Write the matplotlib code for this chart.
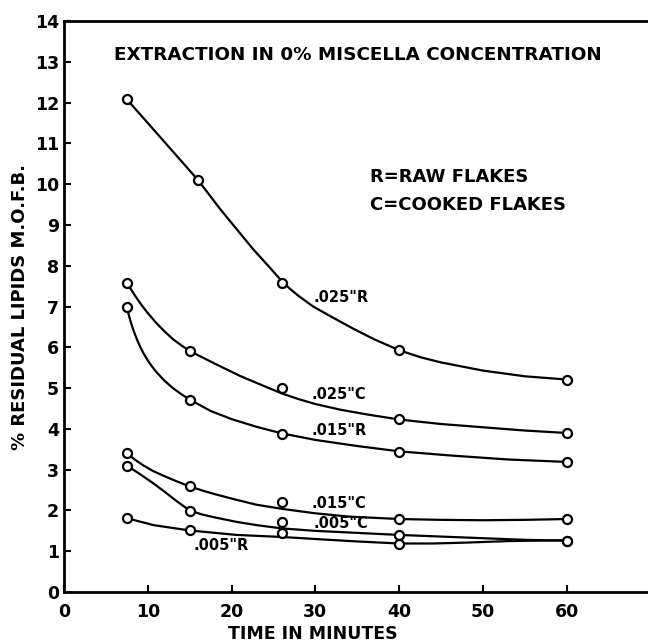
import matplotlib.pyplot as plt

# --- Readings (circles) ---
t_pts = [7.5, 15, 26, 40, 60]
t_pts_025r = [7.5, 16, 26, 40, 60]
raw_025 = [12.08, 10.1, 7.57, 5.93, 5.21]
cooked_025 = [7.58, 5.91, 5.01, 4.24, 3.91]
raw_015 = [6.98, 4.72, 3.88, 3.44, 3.19]
cooked_015 = [3.4, 2.6, 2.21, 1.79, 1.79]
cooked_005 = [3.1, 1.99, 1.71, 1.41, 1.26]
raw_005 = [1.81, 1.51, 1.44, 1.18, 1.26]

# --- Drawn curves ---
t_c_025r = [7.5, 10, 13, 16, 18.6, 20.6, 22.6, 24.5, 26.1, 27, 28, 29.75, 32, 34.5, 37, 40,
            42.5, 45, 50, 55, 60]
c_025r = [12.08, 11.5, 10.8, 10.1, 9.4, 8.9, 8.4, 7.97, 7.6, 7.43, 7.26, 7.0, 6.74, 6.46, 6.2,
          5.93, 5.76, 5.63, 5.43, 5.29, 5.21]

t_c_025c = [7.5, 8, 8.5, 9, 9.5, 10, 11, 12, 13, 14, 15, 18, 21, 24, 26, 28, 30, 33, 36, 40,
            45, 50, 55, 60]
c_025c = [7.58, 7.42, 7.26, 7.11, 6.97, 6.84, 6.6, 6.39, 6.2, 6.05, 5.91, 5.6, 5.3, 5.04, 4.87,
          4.73, 4.61, 4.47, 4.36, 4.23, 4.12, 4.04, 3.96, 3.9]

t_c_015r = [7.5, 7.75, 8, 8.25, 8.5, 8.8, 9.1, 9.5, 10, 10.5, 11, 12, 13, 14, 15, 17.5, 20, 23,
            26, 30, 35, 40, 46, 53, 60]
c_015r = [6.98, 6.78, 6.6, 6.44, 6.3, 6.15, 6.01, 5.85, 5.68, 5.53, 5.4, 5.18, 5.0, 4.85, 4.72,
          4.44, 4.24, 4.05, 3.89, 3.73, 3.58, 3.45, 3.35, 3.25, 3.19]

t_c_015c = [7.5, 8.5, 9.5, 10.7, 12, 13.5, 15, 16.5, 18, 20.6, 23, 26, 30, 34, 40, 45, 50, 55, 60]
c_015c = [3.4, 3.24, 3.1, 2.96, 2.84, 2.71, 2.59, 2.49, 2.4, 2.26, 2.14, 2.04, 1.93, 1.85, 1.79,
          1.77, 1.76, 1.77, 1.79]

t_c_005c = [7.5, 9, 10.7, 12, 13.5, 15, 16.5, 18, 20.6, 23, 26, 30, 35, 40, 45, 50, 55, 60]
c_005c = [3.1, 2.9, 2.66, 2.46, 2.22, 2.0, 1.9, 1.83, 1.72, 1.64, 1.56, 1.5, 1.45, 1.4, 1.36,
          1.32, 1.28, 1.26]

t_c_005r = [7.5, 10.7, 15, 20.6, 26, 30, 35, 40, 44, 47.7, 53.2, 60]
c_005r = [1.81, 1.64, 1.51, 1.4, 1.35, 1.3, 1.24, 1.19, 1.19, 1.21, 1.25, 1.27]

x_ticks = [0, 10, 20, 30, 40, 50, 60]
y_ticks = list(range(0, 15))

plt.rcParams['font.family'] = ['DejaVu Sans']
plt.rcParams['font.weight'] = 'bold'

fig = plt.figure(figsize=(6.48, 6.44), dpi=100)
ax = fig.add_axes([0.0988, 0.0807, 0.901, 0.8866])

curves = [(t_c_025r, c_025r), (t_c_025c, c_025c), (t_c_015r, c_015r),
          (t_c_015c, c_015c), (t_c_005c, c_005c), (t_c_005r, c_005r)]
for tc, cv in curves:
    ax.plot(tc, cv, color='black', lw=1.6, solid_capstyle='round', solid_joinstyle='round', zorder=2)

points = [(t_pts_025r, raw_025), (t_pts, cooked_025), (t_pts, raw_015),
          (t_pts, cooked_015), (t_pts, cooked_005), (t_pts, raw_005)]
for tp, vals in points:
    ax.plot(tp, vals, 'o', ms=6.5, mfc='white', mec='black', mew=1.6, zorder=3)

# --- Annotations ---
ax.text(35.1, 13.16, 'EXTRACTION IN 0% MISCELLA CONCENTRATION', ha='center', va='center',
        fontsize=13.2, fontweight='bold')
ax.text(36.5, 10.17, 'R=RAW FLAKES', ha='left', va='center', fontsize=13, fontweight='bold')
ax.text(36.5, 9.49, 'C=COOKED FLAKES', ha='left', va='center', fontsize=13, fontweight='bold')

lbl = dict(ha='left', va='center', fontsize=10.5, fontweight='bold')
ax.text(29.8, 7.23, '.025"R', **lbl)
ax.text(29.6, 4.85, '.025"C', **lbl)
ax.text(29.6, 3.97, '.015"R', **lbl)
ax.text(29.6, 2.17, '.015"C', **lbl)
ax.text(29.8, 1.67, '.005"C', **lbl)
ax.text(15.4, 1.13, '.005"R', **lbl)

# --- Axes ---
ax.set_xlim(0, 69.7)
ax.set_ylim(0, 14)
ax.set_xticks(x_ticks)
ax.set_yticks(y_ticks)
ax.tick_params(direction='in', length=5, width=1.5, labelsize=12.5)
ax.tick_params(axis='x', pad=8)
for s in ['left', 'bottom', 'top']:
    ax.spines[s].set_linewidth(2)
ax.spines['right'].set_visible(False)

ax.set_xlabel('TIME IN MINUTES', fontsize=12.5, fontweight='bold', labelpad=2)
ax.set_ylabel('% RESIDUAL LIPIDS M.O.F.B.', fontsize=13, fontweight='bold', labelpad=4)
ax.xaxis.set_label_coords((313 - 64) / 584, -0.058)

plt.savefig('out.png', dpi=100)
